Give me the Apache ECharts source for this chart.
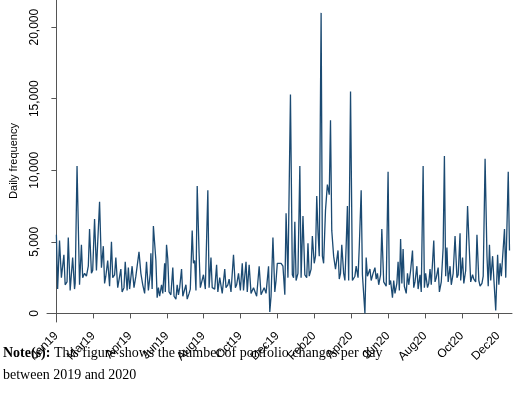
<!DOCTYPE html>
<html>
<head>
<meta charset="utf-8">
<script src="https://cdn.jsdelivr.net/npm/echarts@6/dist/echarts.min.js"></script>
<style>body{margin:0;background:#fff}#chart{width:520px;height:410px}</style>
</head>
<body>
<div id="chart"></div>
<script>
// day index since 1 Jan 2019, daily portfolio changes
var days = [0,2,5,8,9,12,14,17,19,22,26,29,30,33,37,40,42,45,48,51,53,56,58,61,64,66,69,72,75,77,79,82,85,88,90,93,95,98,101,103,105,108,110,113,115,117,121,124,127,132,135,138,141,144,147,150,151,153,155,159,161,163,165,168,170,173,174,176,178,180,183,186,188,191,193,195,197,200,202,205,207,209,212,214,217,219,221,223,225,228,230,233,235,238,242,244,247,249,253,256,258,261,265,269,271,274,276,279,283,286,288,291,294,297,299,303,305,308,311,315,
    318,320,324,327,329,332,335,339,341,343,346,349,351,353,356,359,362,365,367,370,374,377,379,381,383,386,389,391,394,397,400,402,404,407,409,412,414,416,418,420,423,425,427,430,433,436,438,440,443,446,448,450,452,454,456,459,461,463,465,467,470,473,474,477,479,482,484,487,489,493,495,497,499,501,503,506,509,511,513,515,518,520,523,525,527,530,532,534,537,539,541,544,546,548,550,552,554,556,559,561,563,566,569,571,573,576,578,581,583,586,588,590,593,595,597,599,603,605,607,610,612,615,618,620,622,624,626,629,631,634,637,640,642,645,646,649,651,654,657,659,662,665,667,670,672,675,677,680,682,685,688,690,692,694,697,699,702,705,707,709,711,713,716,718,722,724]
var counts = [5500,1700,5100,2500,2400,4100,2000,2200,5300,1600,3900,1700,2100,10300,2000,4800,2500,2800,2600,3300,5900,2800,3000,6600,3000,2900,7800,3200,4700,2100,2600,3700,1900,5000,2500,2700,3900,1800,1700,3100,1500,1800,3600,1600,3200,1700,3300,1800,2600,4300,2800,2000,1400,3600,1600,2800,4200,1700,6100,3700,1100,1800,1200,2000,1400,3500,1500,4800,3800,1500,1300,3200,1200,1000,2000,1300,1800,3100,1200,1100,2000,1000,1400,1700,5800,3500,3700,1600,8900,4200,1800,1700,2700,1700,8600,1800,3900,1800,1700,3400,1500,2500,1400,3100,1800,2000,2400,1500,4100,1800,2000,2800,1600,3500,1600,3600,1500,3400,1400,1800,
    1800,1200,3300,1300,1300,1800,1400,3300,100,1200,5300,1500,2300,3500,3400,3500,3300,1300,7000,2500,15300,2700,2500,6400,2300,2800,10300,2500,6800,2700,2500,4900,2600,3100,5400,3500,4000,8200,5700,4000,21000,4000,3500,7200,9000,8300,13500,5800,4000,3100,3000,4400,2400,2800,4800,2800,2300,4700,7500,2300,15500,2300,2400,2600,3300,2500,4700,8600,2700,0,3900,2600,2700,3100,2300,2800,3200,2400,2800,2000,2700,5900,2200,2300,1900,9900,2000,2300,1100,2300,1400,2100,3600,1600,5200,2100,4500,1900,1400,2800,2000,3000,4400,1800,2200,3300,1700,2700,1500,10300,1800,2800,1800,2100,3100,2000,5100,2200,2500,3200,1500,2200,4600,11000,2600,4600,2200,3300,2000,2800,5400,2500,2700,5600,2300,3900,2100,3000,7500,5300,2200,2700,2400,2200,5500,2300,1900,2100,2600,10800,4000,1900,4800,2300,4000,2400,200,4100,2000,3500,2600,2600,5900,2500,9900,4400]
var tickDays = [0,59,118,177,235,294,353,412,471,530,589,648,706]
var tickLabels = ['Jan19','Mar19','Apr19','Jun19','Aug19','Oct19','Dec19','Feb20','Apr20','Jun20','Aug20','Oct20','Dec20']
var yTicks = [0,5000,10000,15000,20000]

var seriesData = []
for (let i = 0; i < days.length; i++) {
    seriesData.push([days[i], counts[i]])
}

var option = {
    animation: false,
    textStyle: {fontFamily: 'Liberation Sans'},
    grid: {left: 37, right: 8, top: 0, bottom: 88},
    xAxis: {
        type: 'value',
        min: -15,
        max: 728,
        splitLine: {show: false},
        axisLine: {lineStyle: {color: '#555'}},
        axisTick: {customValues: tickDays, length: 5, lineStyle: {color: '#555'}},
        axisLabel: {
            customValues: tickDays,
            rotate: 45,
            color: '#000',
            fontSize: 12,
            margin: 12,
            formatter: function (v) {
                var i = tickDays.indexOf(v)
                return i >= 0 ? tickLabels[i] : ''
            }
        }
    },
    yAxis: {
        type: 'value',
        min: -600,
        max: 21900,
        name: 'Daily frequency',
        nameLocation: 'middle',
        nameGap: 28,
        nameTextStyle: {color: '#000', fontSize: 11},
        splitLine: {show: false},
        axisLine: {show: true, lineStyle: {color: '#555'}},
        axisTick: {show: true, customValues: yTicks, length: 5, lineStyle: {color: '#555'}},
        axisLabel: {
            customValues: yTicks,
            rotate: 90,
            color: '#000',
            fontSize: 12,
            margin: 6,
            formatter: function (v) { return v.toLocaleString('en-US') }
        }
    },
    graphic: [{
        type: 'text',
        left: 3,
        top: 342,
        style: {
            text: '{b|Note(s):} This figure shows the number of portfolio changes per day\nbetween 2019 and 2020',
            fontFamily: 'Liberation Serif',
            fontSize: 14,
            lineHeight: 22,
            fill: '#000',
            rich: {b: {fontWeight: 'bold', fontFamily: 'Liberation Serif', fontSize: 14}}
        }
    }],
    series: [{
        type: 'line',
        data: seriesData,
        showSymbol: false,
        lineStyle: {color: '#1b4a72', width: 1.3}
    }]
}
var myChart = echarts.init(document.getElementById('chart'))
myChart.setOption(option)
</script>
</body>
</html>
